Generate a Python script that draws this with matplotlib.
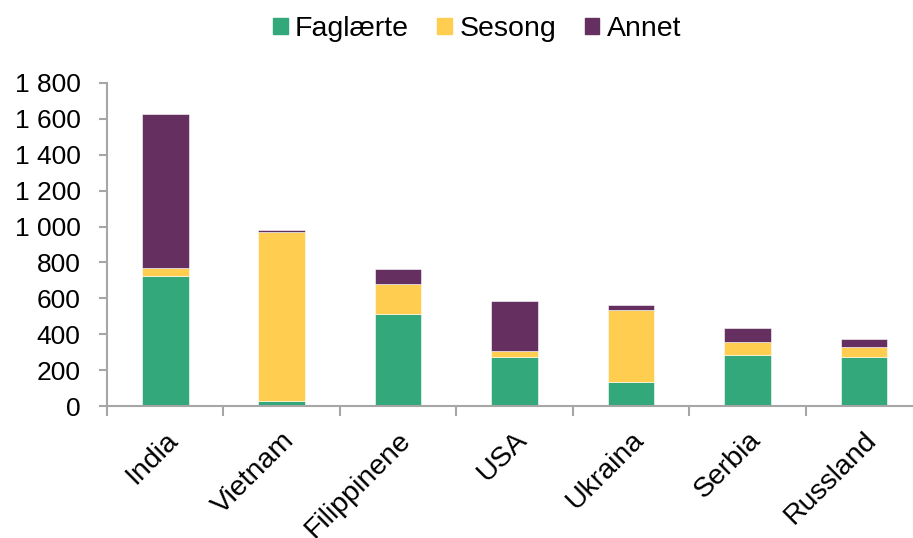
import numpy as np
import matplotlib
matplotlib.use("Agg")
import matplotlib.pyplot as plt
from matplotlib.patches import Patch
from matplotlib.ticker import FuncFormatter

# data
countries = ["India", "Vietnam", "Filippinene", "USA", "Ukraina", "Serbia", "Russland"]
faglaerte = [725, 26, 510, 273, 134, 282, 271]
sesong = [45, 946, 170, 36, 403, 74, 57]
annet = [860, 9, 82, 274, 28, 77, 43]

green = "#33A87A"
yellow = "#FFCD50"
purple = "#653060"
grey = "#A6A6A6"

plt.rcParams["font.family"] = ["Liberation Sans", "DejaVu Sans"]

fig = plt.figure(figsize=(9.13, 5.38), dpi=100)
# axes runs past the right edge like in the original
ax = fig.add_axes([107 / 913, 132 / 538, 815 / 913, 323 / 538])

x = np.arange(len(countries))
w = 0.40
f = np.array(faglaerte)
s = np.array(sesong)
a = np.array(annet)
ax.bar(x, f, w, color=green, edgecolor="white", linewidth=0.4)
ax.bar(x, s, w, bottom=f, color=yellow, edgecolor="white", linewidth=0.4)
ax.bar(x, a, w, bottom=f + s, color=purple, edgecolor="white", linewidth=0.4)

ax.set_xlim(-0.5, len(countries) - 0.5)
ax.set_ylim(0, 1800)
ax.set_yticks(np.arange(0, 1801, 200))
ax.yaxis.set_major_formatter(FuncFormatter(lambda v, p: f"{int(v):,}".replace(",", " ")))

# category boundaries as ticks, labels at centres
ax.set_xticks(np.arange(-0.5, len(countries), 1.0))
ax.set_xticklabels([])
ax.set_xticks(x, minor=True)
ax.set_xticklabels(countries, minor=True, rotation=45, ha="right",
                   rotation_mode="anchor", fontsize=20.5)
ax.tick_params(axis="x", which="minor", length=0, pad=15)
ax.tick_params(axis="x", which="major", length=7, width=1.5, color=grey)
ax.tick_params(axis="y", length=6, width=1.5, color=grey, labelsize=19, pad=13)

for side in ["top", "right"]:
    ax.spines[side].set_visible(False)
for side in ["left", "bottom"]:
    ax.spines[side].set_color(grey)
    ax.spines[side].set_linewidth(1.5)

handles = [Patch(color=green, label="Faglærte"),
           Patch(color=yellow, label="Sesong"),
           Patch(color=purple, label="Annet")]
fig.legend(handles=handles, loc="center", bbox_to_anchor=(477 / 913, 1 - 29 / 538),
           ncol=3, frameon=False, fontsize=20.5, handlelength=0.52, handleheight=0.52,
           handletextpad=0.25, columnspacing=1.0)

fig.savefig("out.png", dpi=100)
